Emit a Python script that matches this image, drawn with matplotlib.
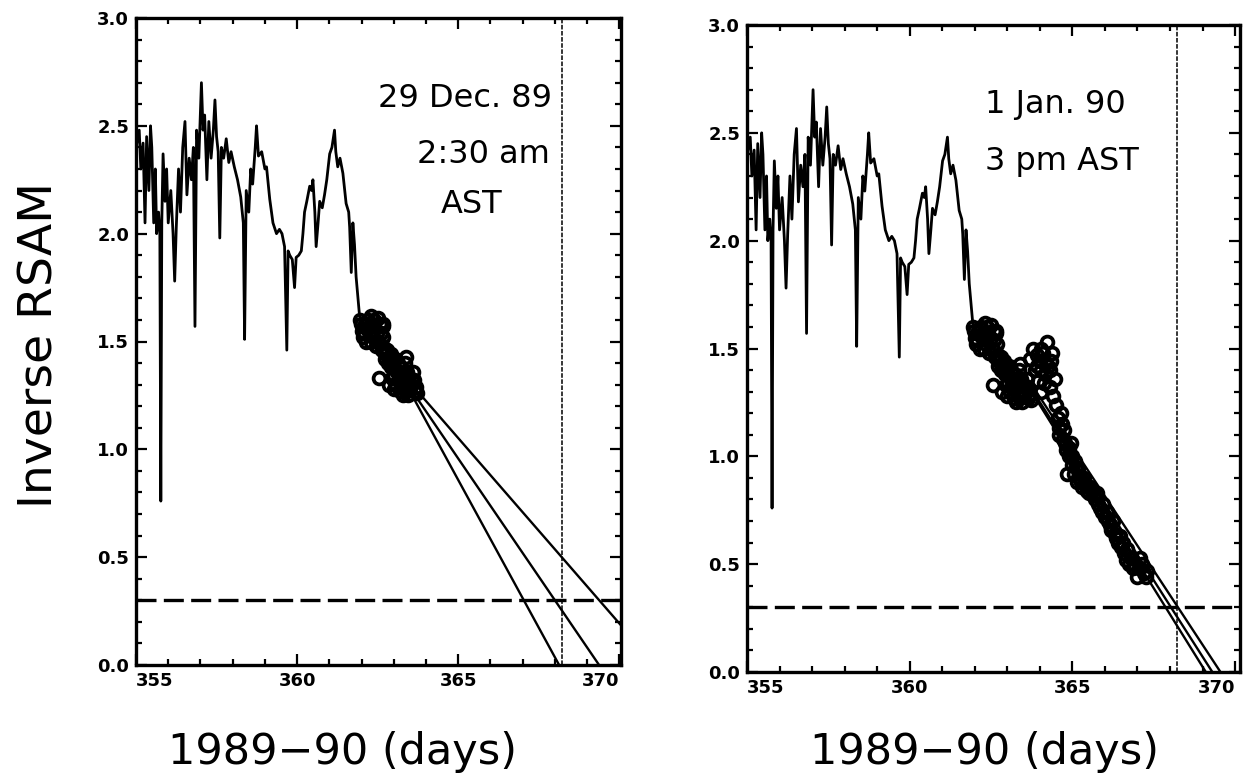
import matplotlib
matplotlib.use("Agg")
import matplotlib.pyplot as plt
from matplotlib.ticker import MultipleLocator

# inverse RSAM trace (day of 1989-90, value)
curve_day = [355.00, 355.10, 355.15, 355.22, 355.28, 355.33, 355.40, 355.45, 355.49, 355.55,
             355.60, 355.64, 355.70, 355.74, 355.77, 355.80, 355.84, 355.90, 355.95, 356.00,
             356.08, 356.15, 356.20, 356.25, 356.32, 356.38, 356.45, 356.52, 356.58, 356.65,
             356.72, 356.78, 356.83, 356.88, 356.95, 357.03, 357.08, 357.13, 357.20, 357.26,
             357.33, 357.40, 357.45, 357.50, 357.55, 357.60, 357.65, 357.72, 357.80, 357.88,
             357.95, 358.05, 358.15, 358.25, 358.33, 358.37, 358.42, 358.50, 358.56, 358.62,
             358.70, 358.74, 358.80, 358.90, 359.00, 359.05, 359.15, 359.25, 359.36, 359.45,
             359.53, 359.61, 359.68, 359.72, 359.77, 359.85, 359.92, 359.97, 360.05, 360.13,
             360.18, 360.23, 360.30, 360.39, 360.45, 360.49, 360.55, 360.59, 360.65, 360.70,
             360.78, 360.85, 360.92, 361.01, 361.08, 361.16, 361.20, 361.26, 361.33, 361.42,
             361.52, 361.60, 361.63, 361.68, 361.73, 361.78, 361.83, 361.93, 362.04]
curve_val = [2.40, 2.48, 2.30, 2.42, 2.05, 2.45, 2.20, 2.50, 2.40, 2.05,
             2.30, 2.00, 2.10, 2.00, 0.76, 2.05, 2.37, 2.15, 2.30, 2.05,
             2.20, 2.00, 1.78, 2.03, 2.30, 2.10, 2.40, 2.52, 2.18, 2.35,
             2.25, 2.40, 1.57, 2.48, 2.35, 2.70, 2.48, 2.55, 2.25, 2.52,
             2.35, 2.48, 2.62, 2.45, 2.38, 1.98, 2.40, 2.35, 2.44, 2.33,
             2.38, 2.31, 2.25, 2.17, 2.05, 1.51, 2.20, 2.10, 2.30, 2.23,
             2.40, 2.50, 2.36, 2.38, 2.30, 2.31, 2.16, 2.05, 2.00, 2.02,
             2.00, 1.94, 1.46, 1.92, 1.90, 1.88, 1.75, 1.89, 1.90, 1.92,
             2.00, 2.10, 2.15, 2.22, 2.20, 2.25, 2.10, 1.94, 2.05, 2.15,
             2.12, 2.18, 2.25, 2.37, 2.40, 2.48, 2.38, 2.31, 2.35, 2.28,
             2.14, 2.10, 2.03, 1.82, 2.05, 1.95, 1.80, 1.63, 1.57]

# data used for the forecast up to 29 Dec
pts1_day = [361.95, 362.00, 362.05, 362.10, 362.15, 362.20, 362.25, 362.30, 362.35, 362.40,
            362.45, 362.50, 362.55, 362.60, 362.65, 362.70, 362.75, 362.80, 362.85, 362.90,
            362.95, 363.00, 363.05, 363.10, 363.15, 363.20, 363.25, 363.30, 363.35, 363.40,
            363.45, 363.50, 363.55, 363.60, 363.65, 363.70, 362.55, 362.85, 363.00, 363.20,
            363.45, 362.66, 363.38,
            361.98, 362.08, 362.18, 362.28, 362.38, 362.48, 362.58, 362.68, 362.62, 362.72,
            362.82, 362.92, 363.02, 363.12, 363.22, 363.32, 363.42, 363.52, 363.62, 363.72,
            363.28, 363.38, 362.95, 363.08]
pts1_val = [1.60, 1.55, 1.52, 1.58, 1.50, 1.60, 1.55, 1.62, 1.52, 1.57,
            1.48, 1.61, 1.50, 1.54, 1.57, 1.47, 1.44, 1.46, 1.42, 1.44,
            1.40, 1.38, 1.42, 1.36, 1.33, 1.38, 1.31, 1.35, 1.40, 1.30,
            1.34, 1.28, 1.32, 1.36, 1.27, 1.29, 1.33, 1.30, 1.28, 1.27,
            1.25, 1.58, 1.43,
            1.58, 1.54, 1.56, 1.50, 1.60, 1.54, 1.58, 1.52, 1.46, 1.42,
            1.40, 1.38, 1.34, 1.40, 1.34, 1.28, 1.36, 1.30, 1.32, 1.26,
            1.25, 1.27, 1.33, 1.30]

# additional data up to 1 Jan
pts2_day = [363.70, 363.80, 363.85, 363.90, 363.95, 364.00, 364.05, 364.10, 364.15, 364.22,
            364.25, 364.30, 364.35, 364.40, 364.45, 364.50, 364.55, 364.60, 364.65, 364.70,
            364.75, 364.80, 364.84, 364.90, 364.95, 365.00, 365.05, 365.10, 365.15, 365.20,
            365.30, 365.40, 365.50, 365.60, 365.70, 365.80, 365.90, 366.00, 366.10, 366.20,
            366.30, 366.40, 366.50, 366.60, 366.68, 366.75, 366.85, 366.99, 367.09, 367.20,
            367.30,
            364.58, 364.68, 364.78, 364.88, 364.98, 365.08, 365.18, 365.25, 365.35, 365.45,
            365.55, 365.65, 365.75, 365.85, 365.95, 366.05, 366.15, 366.25, 366.35, 366.45,
            366.55, 366.65, 366.80, 366.90, 367.05, 367.15, 367.25, 364.05, 364.12, 364.30,
            364.38, 364.02, 363.92]
pts2_val = [1.45, 1.50, 1.40, 1.47, 1.35, 1.44, 1.30, 1.48, 1.38, 1.53,
            1.42, 1.32, 1.44, 1.28, 1.36, 1.24, 1.18, 1.13, 1.20, 1.08,
            1.12, 1.03, 0.92, 1.00, 1.06, 0.96, 0.92, 0.95, 0.88, 0.90,
            0.86, 0.87, 0.83, 0.84, 0.80, 0.78, 0.74, 0.72, 0.70, 0.66,
            0.64, 0.60, 0.58, 0.55, 0.57, 0.50, 0.48, 0.44, 0.53, 0.46,
            0.47,
            1.10, 1.15, 1.06, 1.04, 1.00, 0.98, 0.94, 0.88, 0.90, 0.84,
            0.86, 0.82, 0.83, 0.76, 0.78, 0.74, 0.68, 0.70, 0.62, 0.63,
            0.60, 0.52, 0.53, 0.50, 0.48, 0.50, 0.44, 1.40, 1.34, 1.40,
            1.48, 1.50, 1.42]

# fitted lines: start point and day where they reach zero
fit1_start = [363.59, 363.69, 363.79]
fit1_startval = [1.244, 1.244, 1.26]
fit1_zero = [368.13, 369.37, 371.12]
fit2_start = [363.70, 363.75, 363.80]
fit2_startval = [1.31, 1.31, 1.32]
fit2_zero = [369.10, 369.30, 369.55]

threshold = 0.3
eruption_day = 368.22

labels1 = ["29 Dec. 89", "2:30 am", "AST"]
labels2 = ["1 Jan. 90", "3 pm AST"]

fig = plt.figure(figsize=(12.54, 7.81), dpi=100)
ax1 = fig.add_axes([136 / 1254, 1 - 665 / 781, 485 / 1254, 647 / 781])
ax2 = fig.add_axes([747 / 1254, 1 - 672 / 781, 493 / 1254, 647 / 781])


def draw_panel(ax, pts_day, pts_val, f_start, f_sval, f_zero, xmax):
    ax.plot(curve_day, curve_val, color="black", lw=2.0)
    ax.plot(pts_day, pts_val, "o", ms=8.5, mfc="none", mec="black", mew=2.7)
    for s, v, z in zip(f_start, f_sval, f_zero):
        ax.plot([s, z], [v, 0], color="black", lw=1.7)
    ax.axhline(threshold, color="black", lw=2.4, dashes=(6, 2.2))
    ax.axvline(eruption_day, color="black", lw=1.1, ls=(0, (3, 1)))
    ax.set_xlim(355, xmax)
    ax.set_ylim(0, 3.0)
    ax.xaxis.set_minor_locator(MultipleLocator(1))
    ax.yaxis.set_minor_locator(MultipleLocator(0.1))
    ax.tick_params(which="both", direction="in", top=True, right=True, width=1.6)
    ax.tick_params(which="major", length=8, labelsize=13, pad=5)
    ax.tick_params(which="minor", length=4)
    ax.set_yticks([0, 0.5, 1.0, 1.5, 2.0, 2.5, 3.0])
    ax.set_yticklabels(["0.0", "0.5", "1.0", "1.5", "2.0", "2.5", "3.0"], fontweight="bold")
    ax.set_xticks([355, 360, 365, 370])
    ax.set_xticklabels(["355", "360", "365", "370"], fontweight="bold")
    xl = ax.get_xticklabels()
    xl[0].set_ha("left")
    xl[-1].set_ha("right")
    for sp in ax.spines.values():
        sp.set_linewidth(2.4)


draw_panel(ax1, pts1_day, pts1_val, fit1_start, fit1_startval, fit1_zero, 370.05)
draw_panel(ax2, pts1_day + pts2_day, pts1_val + pts2_val, fit2_start, fit2_startval, fit2_zero, 370.15)

ax1.text(0.858, 0.862, labels1[0], transform=ax1.transAxes, ha="right", va="baseline", fontsize=23)
ax1.text(0.854, 0.776, labels1[1], transform=ax1.transAxes, ha="right", va="baseline", fontsize=23)
ax1.text(0.691, 0.699, labels1[2], transform=ax1.transAxes, ha="center", va="baseline", fontsize=23)
ax2.text(0.483, 0.864, labels2[0], transform=ax2.transAxes, ha="left", va="baseline", fontsize=23)
ax2.text(0.483, 0.776, labels2[1], transform=ax2.transAxes, ha="left", va="baseline", fontsize=23)

fig.text(40 / 1254, 1 - 345 / 781, "Inverse RSAM", rotation=90, ha="center", va="center", fontsize=34)
fig.text(342 / 1254, 1 - 752 / 781, "1989\u221290 (days)", ha="center", va="center", fontsize=31)
fig.text(985 / 1254, 1 - 752 / 781, "1989\u221290 (days)", ha="center", va="center", fontsize=31)

fig.savefig("out.png", dpi=100)
